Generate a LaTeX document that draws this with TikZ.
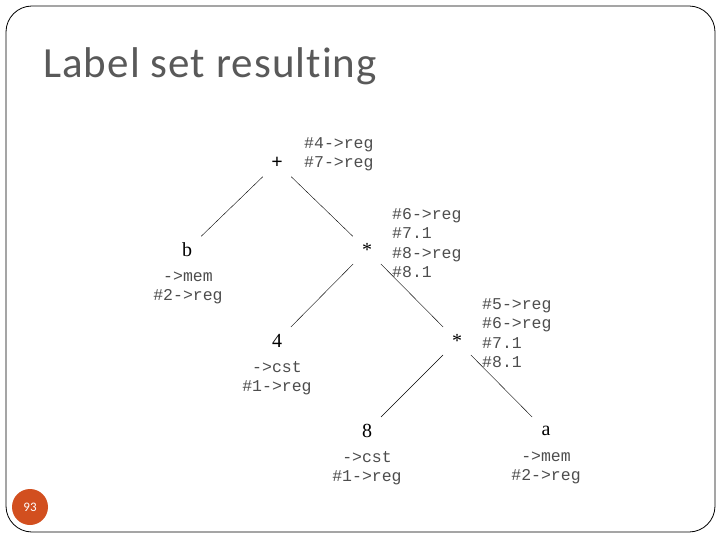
\documentclass[tikz,border=0pt]{standalone}
\usepackage{fontspec}
\setmainfont{Liberation Serif}
\newfontfamily\titlefont[Ligatures=NoCommon,LetterSpace=2.5]{Carlito}
\newfontfamily\badgefont{Carlito}
\newfontfamily\codefont{Liberation Mono}
\usepackage{xcolor}
\definecolor{slideGray}{HTML}{595959}
\definecolor{codeGray}{HTML}{4D4D4D}
\definecolor{badgeOrange}{HTML}{D24F1F}
\usetikzlibrary{positioning}

\begin{document}
\begin{tikzpicture}[
  x=1pt, y=-1pt,
  op/.style={circle,minimum size=39pt,inner sep=0pt,
             font=\fontsize{20}{22}\selectfont},
  lbl/.style={align=left,inner sep=0pt,text=codeGray,
              font=\codefont\fontsize{16.5}{19.3}\selectfont},
  leaflbl/.style={lbl,align=center},
  edge/.style={thin,black}
]
\useasboundingbox (0,0) rectangle (720,540);

% slide frame
\draw[rounded corners=26pt, line width=0.8pt] (6,6) rectangle (715,532);
\node[anchor=base west, inner sep=0pt, text=slideGray,
      font=\titlefont\fontsize{43}{50}\selectfont] (title) at (43,78) {Label set resulting};
\node[circle, fill=badgeOrange, minimum size=36pt, inner sep=0pt,
      text=white, font=\badgefont\fontsize{13}{15}\selectfont] (page) at (30,507) {93};

% nodes
\node[op, font=\fontsize{20}{22}\selectfont\bfseries] (plus) at (277,163) {+};
\node[op] (b)     at (187,250) {b};
\node[op] (mulA)  at (367,250) {*};
\node[op] (four)  at (277,341) {4};
\node[op] (mulB)  at (457,341) {*};
\node[op] (eight) at (367,431) {8};
\node[op] (a)     at (546,431) {a};

% label sets
\node[lbl, anchor=west] (plusLab) at (304,154) {\#4->reg\\\#7->reg};
\node[lbl, anchor=west] (mulALab) at (392,243) {\#6->reg\\\#7.1\\\#8->reg\\\#8.1};
\node[lbl, anchor=west] (mulBLab) at (482,333) {\#5->reg\\\#6->reg\\\#7.1\\\#8.1};
\node[leaflbl] (bLab)     at (188,288) {->mem\\\#2->reg};
\node[leaflbl] (fourLab)  at (277,378) {->cst\\\#1->reg};
\node[leaflbl] (eightLab) at (367,468) {->cst\\\#1->reg};
\node[leaflbl] (aLab)     at (546,468) {->mem\\\#2->reg};

% edges
\draw[edge] (plus) -- (b);
\draw[edge] (plus) -- (mulA);
\draw[edge] (mulA) -- (four);
\draw[edge] (mulA) -- (mulB);
\draw[edge] (mulB) -- (eight);
\draw[edge] (mulB) -- (a);
\end{tikzpicture}
\end{document}
